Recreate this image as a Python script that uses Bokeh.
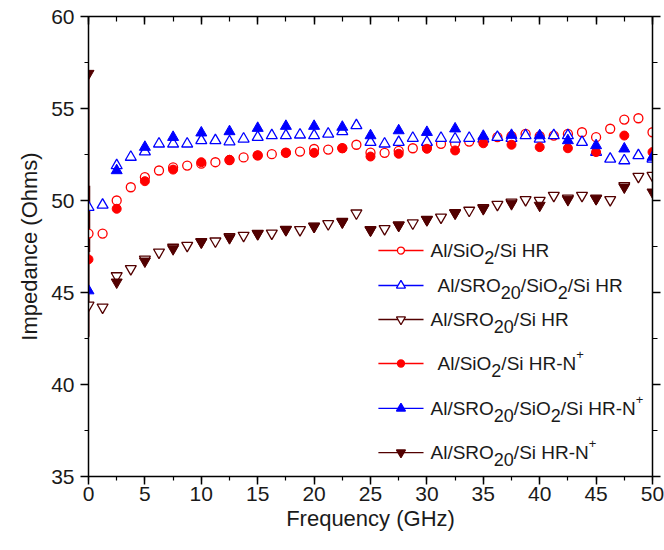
from bokeh.plotting import figure
from bokeh.models import Range1d, LinearAxis, SingleIntervalTicker, CustomJSTickFormatter
from bokeh.core.properties import value
from bokeh.embed import file_html
from bokeh.resources import INLINE

# ---------------- data ----------------
freq_hr = [0.0, 1.25, 2.5, 3.75, 5.0, 6.25, 7.5, 8.75, 10.0, 11.25, 12.5, 13.75,
           15.0, 16.25, 17.5, 18.75, 20.0, 21.25, 22.5, 23.75, 25.0, 26.25, 27.5,
           28.75, 30.0, 31.25, 32.5, 33.75, 35.0, 36.25, 37.5, 38.75, 40.0, 41.25,
           42.5, 43.75, 45.0, 46.25, 47.5, 48.75, 50.0]
freq_n = [0.0, 2.5, 5.0, 7.5, 10.0, 12.5, 15.0, 17.5, 20.0, 22.5, 25.0, 27.5,
          30.0, 32.5, 35.0, 37.5, 40.0, 42.5, 45.0, 47.5, 50.0]

z_sio2_hr = [48.2, 48.2, 50.0, 50.72, 51.27, 51.63, 51.8, 51.9, 52.0, 52.08, 52.2,
             52.34, 52.45, 52.52, 52.6, 52.66, 52.8, 52.77, 52.85, 53.03, 52.6,
             52.59, 52.7, 52.84, 52.9, 53.08, 53.1, 53.2, 53.3, 53.44, 53.5, 53.62,
             53.5, 53.53, 53.62, 53.71, 53.44, 53.9, 54.4, 54.47, 53.71]
z_sro_sio2_hr = [49.64, 49.76, 51.9, 52.36, 52.65, 53.08, 53.08, 53.08, 53.26, 53.26,
                 53.2, 53.35, 53.44, 53.53, 53.53, 53.57, 53.53, 53.62, 53.75, 54.08,
                 53.17, 53.08, 53.17, 53.39, 53.17, 53.39, 53.35, 53.39, 53.35, 53.44,
                 53.39, 53.53, 53.35, 53.53, 53.53, 53.17, 52.63, 52.26, 52.17, 52.45,
                 52.26]
z_sro_hr = [44.3, 44.2, 45.9, 46.29, 46.8, 47.19, 47.45, 47.55, 47.75, 47.79, 48.02,
            48.1, 48.2, 48.22, 48.42, 48.41, 48.6, 48.73, 48.85, 49.31, 48.4, 48.46,
            48.66, 48.77, 48.97, 49.09, 49.33, 49.46, 49.6, 49.78, 49.9, 50.04, 50.0,
            50.27, 50.12, 50.27, 50.12, 50.04, 50.8, 51.3, 51.36]

z_sio2_n = [46.8, 49.55, 51.05, 51.68, 52.08, 52.21, 52.45, 52.59, 52.59, 52.84,
            52.39, 52.54, 52.81, 52.72, 53.11, 53.03, 52.9, 52.84, 52.63, 53.53, 52.63]
z_sro_sio2_n = [45.1, 51.63, 52.9, 53.44, 53.68, 53.75, 53.93, 54.04, 54.04, 53.99,
                53.53, 53.8, 53.71, 53.9, 53.5, 53.55, 53.53, 53.26, 52.99, 52.81, 52.36]
z_sro_n = [56.9, 45.56, 46.7, 47.37, 47.74, 47.97, 48.19, 48.41, 48.59, 48.82, 48.39,
           48.64, 48.95, 49.31, 49.55, 49.82, 49.73, 50.04, 50.09, 50.72, 50.45]

# low-frequency spike of the Al/SRO20/Si HR-N+ trace
spike_freq = [0.0, 0.0]
spike_z = [42.6, 56.9]
spike_core_z = [47.2, 50.8]

x_ticks_interval = 5
y_ticks_interval = 5

# ---------------- styling ----------------
RED = "#FF0000"
BLUE = "#0000FF"
WINE = "#520000"
TXT = "#1a1a1a"
FONT = "Liberation Sans"

p = figure(width=664, height=550, x_range=Range1d(0, 50), y_range=Range1d(35, 60),
           output_backend="svg", toolbar_location=None,
           min_border_left=88, min_border_right=12, min_border_top=16,
           min_border_bottom=74)
p.grid.visible = False
p.outline_line_color = None
p.background_fill_color = "white"
p.border_fill_color = "white"

p.xaxis.ticker = SingleIntervalTicker(interval=x_ticks_interval, num_minor_ticks=2)
p.yaxis.ticker = SingleIntervalTicker(interval=y_ticks_interval, num_minor_ticks=2)
p.xaxis.axis_label = "Frequency (GHz)"
p.yaxis.axis_label = "Impedance (Ohms)"

for ax in (p.xaxis[0], p.yaxis[0]):
    ax.axis_line_width = 1.5
    ax.axis_line_color = "black"
    ax.major_tick_line_width = 1.5
    ax.minor_tick_line_width = 1.2
    ax.major_tick_out = 8
    ax.major_tick_in = 0
    ax.minor_tick_out = 4
    ax.minor_tick_in = 0
    ax.major_label_text_font = FONT
    ax.major_label_text_font_size = "21px"
    ax.major_label_text_color = TXT
    ax.axis_label_text_font = FONT
    ax.axis_label_text_font_size = "22px"
    ax.axis_label_text_font_style = "normal"
    ax.axis_label_text_color = TXT
p.xaxis[0].major_label_standoff = 2
p.xaxis[0].axis_label_standoff = 2
p.yaxis[0].major_label_standoff = 6
p.yaxis[0].axis_label_standoff = 6

blank = CustomJSTickFormatter(code="return ''")
top = LinearAxis(ticker=SingleIntervalTicker(interval=x_ticks_interval, num_minor_ticks=2),
                 formatter=blank, major_label_standoff=0,
                 major_tick_in=8, major_tick_out=0, minor_tick_in=5, minor_tick_out=0,
                 axis_line_width=1.5, major_tick_line_width=1.5, minor_tick_line_width=1.2)
p.add_layout(top, "above")
right = LinearAxis(ticker=SingleIntervalTicker(interval=y_ticks_interval, num_minor_ticks=2),
                   formatter=blank, major_label_standoff=0,
                   major_tick_in=0, major_tick_out=8, minor_tick_in=0, minor_tick_out=5,
                   axis_line_width=1.5, major_tick_line_width=1.5, minor_tick_line_width=1.2)
p.add_layout(right, "right")

# ---------------- data marks ----------------
p.line(spike_freq, spike_z, line_color=WINE, line_width=2)
p.line(spike_freq, spike_core_z, line_color=WINE, line_width=3.5)

p.scatter(freq_hr, z_sio2_hr, marker="circle", size=9, line_color=RED,
          fill_color="white", line_width=1.3)
p.scatter(freq_hr, z_sro_sio2_hr, marker="triangle", size=11, line_color=BLUE,
          fill_color="white", line_width=1.3)
p.scatter(freq_hr, z_sro_hr, marker="inverted_triangle", size=11, line_color=WINE,
          fill_color="white", line_width=1.3)
p.scatter(freq_n, z_sio2_n, marker="circle", size=9, line_color=RED,
          fill_color=RED, line_width=1)
p.scatter(freq_n, z_sro_sio2_n, marker="triangle", size=11, line_color=BLUE,
          fill_color=BLUE, line_width=1)
p.scatter(freq_n, z_sro_n, marker="inverted_triangle", size=11, line_color=WINE,
          fill_color=WINE, line_width=1)

# ---------------- manual legend (supports sub/superscripts) ----------------
ADV = {'A': 667, 'l': 222, '/': 278, 'S': 667, 'i': 222, 'O': 778, '2': 556,
       '0': 556, 'H': 722, 'R': 722, '-': 333, 'N': 722, '+': 584, ' ': 278}


def tw(s, size):
    return sum(ADV.get(c, 556) for c in s) / 1000.0 * size


def put_text(xd, yd, segs):
    off = 0.0
    for txt, kind in segs:
        size = {"n": 19, "sub": 18, "sup": 13}[kind]
        dy = {"n": 0, "sub": 7, "sup": -9}[kind]
        p.text(x=[xd], y=[yd], text=[txt], x_offset=off, y_offset=dy,
               text_font=value(FONT), text_font_size=f"{size}px",
               text_baseline="middle", text_align="left", text_color=TXT)
        off += tw(txt, size)


legend_entries = [
    (RED, "circle", False, 47.28, 30.32,
     [("Al/SiO", "n"), ("2", "sub"), ("/Si HR", "n")]),
    (BLUE, "triangle", False, 45.38, 30.94,
     [("Al/SRO", "n"), ("20", "sub"), ("/SiO", "n"), ("2", "sub"), ("/Si HR", "n")]),
    (WINE, "inverted_triangle", False, 43.53, 30.32,
     [("Al/SRO", "n"), ("20", "sub"), ("/Si HR", "n")]),
    (RED, "circle", True, 41.14, 30.94,
     [("Al/SiO", "n"), ("2", "sub"), ("/Si HR-N", "n"), ("+", "sup")]),
    (BLUE, "triangle", True, 38.70, 30.32,
     [("Al/SRO", "n"), ("20", "sub"), ("/SiO", "n"), ("2", "sub"), ("/Si HR-N", "n"), ("+", "sup")]),
    (WINE, "inverted_triangle", True, 36.30, 30.32,
     [("Al/SRO", "n"), ("20", "sub"), ("/Si HR-N", "n"), ("+", "sup")]),
]
LEG_X0, LEG_X1, LEG_XM = 25.7, 29.7, 27.7
for color, marker, filled, yl, xt, segs in legend_entries:
    p.segment(x0=[LEG_X0], y0=[yl], x1=[LEG_X1], y1=[yl], line_color=color, line_width=1.4)
    msize = 7 if marker == "circle" else 9
    p.scatter(x=[LEG_XM], y=[yl], marker=marker, size=msize, line_color=color,
              fill_color=color if filled else "white", line_width=1.3)
    put_text(xt, yl, segs)

open("out.html", "w").write(file_html(p, INLINE))
